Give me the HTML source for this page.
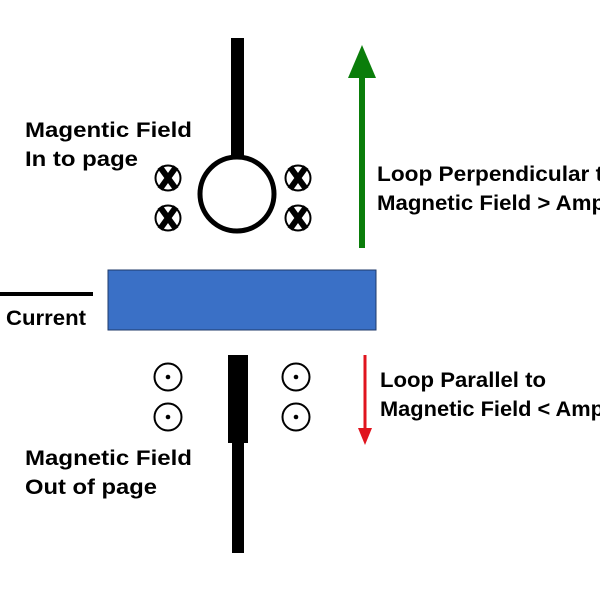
<!DOCTYPE html>
<html><head><style>body{margin:0;background:#fff}svg{display:block}text{font-family:"Liberation Sans",sans-serif;font-weight:bold;font-size:21px;fill:#000}</style></head><body>
<svg width="600" height="597" viewBox="0 0 600 597" xmlns="http://www.w3.org/2000/svg">
<rect x="231" y="38" width="13" height="120" fill="#000"/>
<circle cx="237" cy="194" r="37" fill="none" stroke="#000" stroke-width="5"/>
<g stroke="#000" fill="none">
<g id="x1"><circle cx="168" cy="178" r="12.5" stroke-width="2"/><path d="M160 167 L176 189 M176 167 L160 189" stroke-width="6"/></g>
<use href="#x1" y="40"/><use href="#x1" x="130"/><use href="#x1" x="130" y="40"/>
</g>
<rect x="108" y="270" width="268" height="60" fill="#3a70c6" stroke="#1f3a6a" stroke-width="1"/>
<rect x="0" y="292" width="93" height="4" fill="#000"/>
<text x="6" y="325" textLength="80" lengthAdjust="spacingAndGlyphs">Current</text>
<rect x="228" y="355" width="20" height="88" fill="#000"/>
<rect x="232" y="443" width="12" height="110" fill="#000"/>
<g stroke="#000" stroke-width="2" fill="none">
<circle cx="168" cy="377" r="13.5"/><circle cx="168" cy="417" r="13.5"/><circle cx="296" cy="377" r="13.5"/><circle cx="296" cy="417" r="13.5"/>
</g>
<g fill="#000"><circle cx="168" cy="377" r="2.3"/><circle cx="168" cy="417" r="2.3"/><circle cx="296" cy="377" r="2.3"/><circle cx="296" cy="417" r="2.3"/></g>
<rect x="359" y="75" width="6" height="173" fill="#0a7d0a"/>
<polygon points="362,45 348,78 376,78" fill="#0a7d0a"/>
<rect x="363.5" y="355" width="3" height="76" fill="#e0141e"/>
<polygon points="365,445 358,428 372,428" fill="#e0141e"/>
<text x="25" y="137" textLength="167" lengthAdjust="spacingAndGlyphs">Magentic Field</text>
<text x="25" y="166" textLength="113" lengthAdjust="spacingAndGlyphs">In to page</text>
<text x="377" y="181" textLength="240" lengthAdjust="spacingAndGlyphs">Loop Perpendicular to</text>
<text x="377" y="210" textLength="228" lengthAdjust="spacingAndGlyphs">Magnetic Field &gt; Amp</text>
<text x="380" y="387" textLength="166" lengthAdjust="spacingAndGlyphs">Loop Parallel to</text>
<text x="380" y="416" textLength="224" lengthAdjust="spacingAndGlyphs">Magnetic Field &lt; Amp</text>
<text x="25" y="465" textLength="167" lengthAdjust="spacingAndGlyphs">Magnetic Field</text>
<text x="25" y="494" textLength="132" lengthAdjust="spacingAndGlyphs">Out of page</text>
</svg>
</body></html>
